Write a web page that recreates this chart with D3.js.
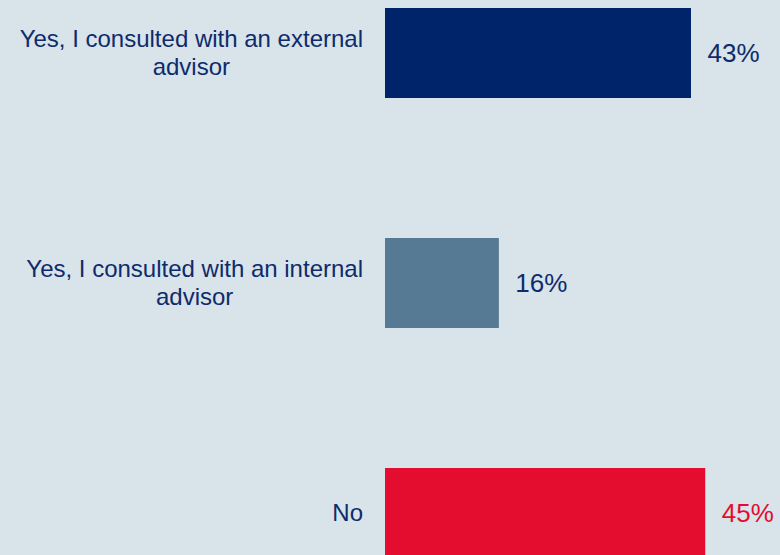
<!DOCTYPE html>
<html>
<head>
<meta charset="utf-8">
<script src="https://cdn.jsdelivr.net/npm/d3@7"></script>
<style>
  html, body { margin: 0; padding: 0; background: #d8e3ea; overflow: hidden; }
  svg { display: block; }
  text { font-family: "Liberation Sans", Arial, sans-serif; }
</style>
</head>
<body>
<svg id="chart" width="780" height="555"></svg>
<script>
// Survey answers, in display order (top to bottom)
const categories = [
  ["Yes, I consulted with an external", "advisor"],
  ["Yes, I consulted with an internal", "advisor"],
  ["No"]
];
const values = [43, 16, 45];
const barColors = ["#00246a", "#567a94", "#e50d2f"];
const valueColors = ["#0f2b6c", "#0f2b6c", "#e50d2f"];
const labelColor = "#0f2b6c";

const W = 780, H = 555;
const plotLeft = 385;
const svg = d3.select("#chart");
svg.append("rect").attr("width", W).attr("height", H).attr("fill", "#d8e3ea");

const keys = categories.map((c, i) => i);

// Band layout: 230px step with 90px bars; plot runs past the bottom edge
const y = d3.scaleBand()
  .domain(keys)
  .range([-62, 628])
  .paddingInner(140 / 230)
  .paddingOuter(70 / 230);

const x = d3.scaleLinear()
  .domain([0, 50])
  .range([plotLeft, plotLeft + 355.8]);

const g = svg.append("g");

g.selectAll("rect.bar")
  .data(keys)
  .join("rect")
  .attr("class", "bar")
  .attr("x", x(0))
  .attr("y", i => y(i))
  .attr("width", i => x(values[i]) - x(0))
  .attr("height", y.bandwidth())
  .attr("fill", i => barColors[i]);

// Value labels to the right of each bar
g.selectAll("text.val")
  .data(keys)
  .join("text")
  .attr("class", "val")
  .attr("x", i => x(values[i]) + 16.5)
  .attr("y", i => y(i) + y.bandwidth() / 2 + 9.3)
  .attr("font-size", 26)
  .attr("fill", i => valueColors[i])
  .text(i => values[i] + "%");

// Category labels: block right-aligned at the axis gap, lines centred on each other
const labelRight = 363;
const lineH = 28;
keys.forEach(i => {
  const lines = categories[i];
  const t = g.append("text")
    .attr("font-size", 24)
    .attr("fill", labelColor)
    .attr("text-anchor", "middle");
  const tmp = t.append("tspan").text(lines[0]);
  const w0 = tmp.node().getComputedTextLength();
  tmp.remove();
  const cx = labelRight - w0 / 2;
  const cy = y(i) + y.bandwidth() / 2;
  const firstBase = cy + 8 - (lines.length - 1) * lineH / 2;
  lines.forEach((ln, j) => {
    t.append("tspan")
      .attr("x", cx)
      .attr("y", firstBase + j * lineH)
      .text(ln);
  });
});
</script>
</body>
</html>
